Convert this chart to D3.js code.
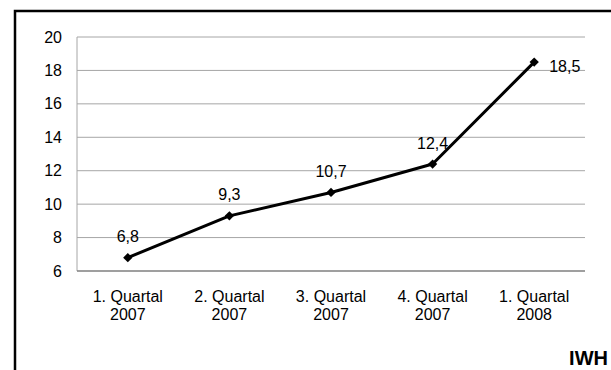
<!DOCTYPE html>
<html>
    <head>
        <script src="https://d3js.org/d3.v7.min.js"></script>
        <style>
            body { margin: 0; background: #fff; }
            svg { display: block; font-family: Arial, "Liberation Sans", sans-serif; }
        </style>
    </head>
    <body>
        <script>
            const quarters = ['1. Quartal', '2. Quartal', '3. Quartal', '4. Quartal', '1. Quartal']
            const years = ['2007', '2007', '2007', '2007', '2008']
            const values = [6.8, 9.3, 10.7, 12.4, 18.5]
            const labels = ['6,8', '9,3', '10,7', '12,4', '18,5']
            const yTicks = [6, 8, 10, 12, 14, 16, 18, 20]

            const svg = d3.select('body').append('svg')
                .attr('width', 611).attr('height', 370)

            // outer frame (only top and left visible)
            svg.append('path')
                .attr('d', 'M15,370 V11 H611')
                .attr('fill', 'none').attr('stroke', 'black').attr('stroke-width', 2.5)

            const plot = { left: 77, right: 585, top: 37, bottom: 271 }
            const x = d3.scaleBand().domain(d3.range(values.length)).range([plot.left, plot.right])
            const y = d3.scaleLinear().domain([6, 20]).range([plot.bottom, plot.top])

            svg.selectAll('.grid')
                .data(yTicks.slice(1)).enter()
                .append('line')
                    .attr('x1', plot.left).attr('x2', plot.right)
                    .attr('y1', d => y(d)).attr('y2', d => y(d))
                    .attr('stroke', '#a6a6a6').attr('stroke-width', 1)

            svg.append('line')
                .attr('x1', plot.left).attr('x2', plot.left).attr('y1', plot.top).attr('y2', plot.bottom)
                .attr('stroke', '#a6a6a6').attr('stroke-width', 1)
            svg.append('line')
                .attr('x1', plot.left).attr('x2', plot.right).attr('y1', plot.bottom).attr('y2', plot.bottom)
                .attr('stroke', '#7f7f7f').attr('stroke-width', 1.5)

            svg.selectAll('.ytick')
                .data(yTicks).enter()
                .append('text')
                    .attr('x', 62).attr('y', d => y(d) + 5.5)
                    .attr('text-anchor', 'end')
                    .style('font-size', '16px')
                    .text(d => d)

            const cx = i => x(i) + x.bandwidth() / 2

            const xl = svg.selectAll('.xlabel')
                .data(values).enter()
                .append('text')
                    .attr('text-anchor', 'middle')
                    .style('font-size', '16px')
            xl.append('tspan').attr('x', (d, i) => cx(i)).attr('y', 302).text((d, i) => quarters[i])
            xl.append('tspan').attr('x', (d, i) => cx(i)).attr('y', 320).text((d, i) => years[i])

            const line = d3.line().x((d, i) => cx(i)).y(d => y(d))
            svg.append('path')
                .datum(values)
                .attr('d', line)
                .attr('fill', 'none').attr('stroke', 'black').attr('stroke-width', 3)
                .attr('stroke-linejoin', 'round')

            svg.selectAll('.marker')
                .data(values).enter()
                .append('path')
                    .attr('d', d3.symbol().type(d3.symbolDiamond2).size(55))
                    .attr('transform', (d, i) => `translate(${cx(i)}, ${y(d)})`)
                    .attr('fill', 'black')

            const last = values.length - 1
            svg.selectAll('.vlabel')
                .data(values).enter()
                .append('text')
                    .attr('x', (d, i) => i === last ? cx(i) + 15 : cx(i))
                    .attr('y', (d, i) => i === last ? y(d) + 10 : y(d) - 15.5)
                    .attr('text-anchor', (d, i) => i === last ? 'start' : 'middle')
                    .style('font-size', '16px')
                    .text((d, i) => labels[i])

            svg.append('text')
                .attr('x', 608).attr('y', 365)
                .attr('text-anchor', 'end')
                .style('font-size', '20px').style('font-weight', 'bold')
                .text('IWH')
        </script>
    </body>
</html>
